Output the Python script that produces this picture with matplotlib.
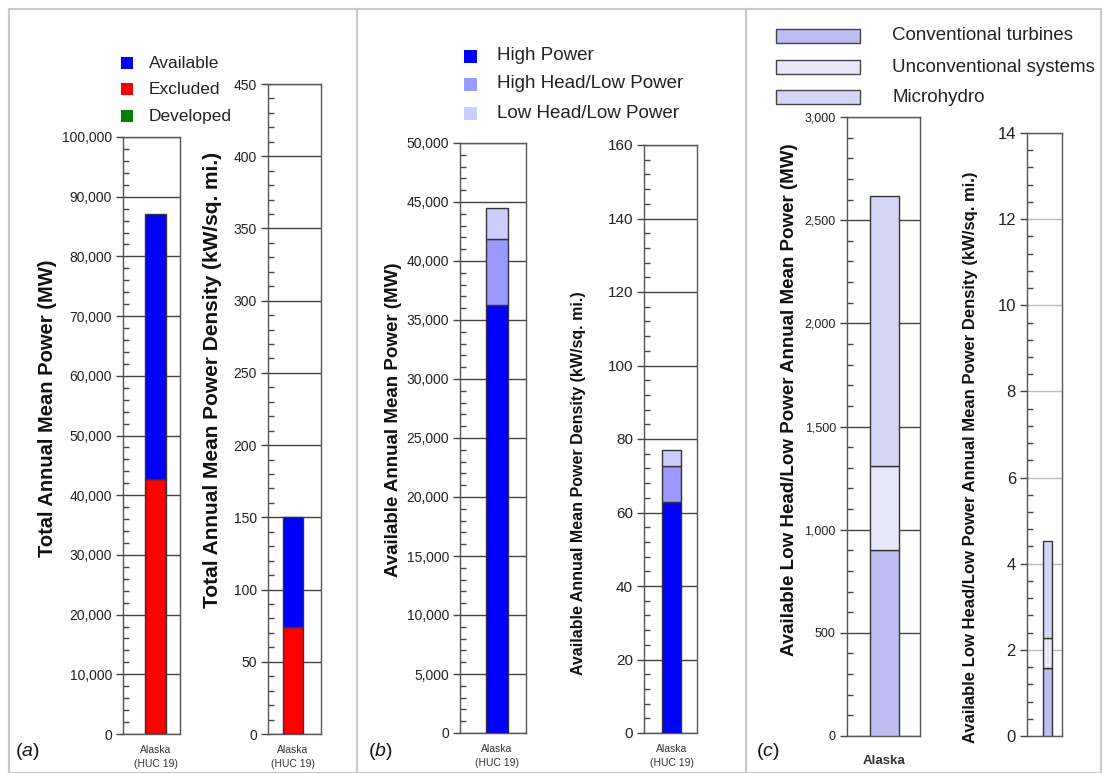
import matplotlib
matplotlib.use("Agg")
import matplotlib.pyplot as plt
from matplotlib.patches import Rectangle
from matplotlib.lines import Line2D
from matplotlib.ticker import MultipleLocator, StrMethodFormatter

plt.rcParams['font.family'] = ['Liberation Sans', 'DejaVu Sans']
plt.rcParams['mathtext.fontset'] = 'custom'
plt.rcParams['mathtext.rm'] = 'Liberation Sans'
plt.rcParams['mathtext.it'] = 'Liberation Sans:italic'

# ---- data ----
region = "Alaska\n(HUC 19)"

# (a) total power, stacked bottom -> top
a_names = ["Developed", "Excluded", "Available"]
a_colors = ["#007F00", "#FF0000", "#0000FF"]
a_power_mw = [0, 42700, 44400]
a_density = [0, 74, 76]

# (b) available power by class
b_names = ["High Power", "High Head/Low Power", "Low Head/Low Power"]
b_colors = ["#0000FF", "#9999FF", "#CCCCFF"]
b_power_mw = [36270, 5600, 2600]
b_density = [62.9, 9.7, 4.4]

# (c) low head / low power by technology
c_names = ["Conventional turbines", "Unconventional systems", "Microhydro"]
c_colors = ["#BEBEF3", "#E8E8FA", "#D5D5F7"]
c_power_mw = [901, 408, 1308]
c_density = [1.58, 0.70, 2.25]

W, H = 1104, 773
fig = plt.figure(figsize=(W / 100, H / 100), dpi=100)


def px_axes(l, t, r, b):
    return fig.add_axes([l / W, 1 - b / H, (r - l) / W, (b - t) / H])


def stacked_bar(ax, l, r, bar_l, bar_r, values, colors, ymax, major, minor,
                fmt="{x:.0f}", tick_size=10, grid_color="#444444",
                xlabel=region, xlabel_size=7.5, xlabel_weight="normal",
                xpad=8):
    ax.set_xlim(0, r - l)
    ax.set_ylim(0, ymax)
    x = (bar_l + bar_r) / 2 - l
    bottom = 0
    for v, c in zip(values, colors):
        if v > 0:
            ax.bar(x, v, width=bar_r - bar_l, bottom=bottom, color=c,
                   edgecolor="#333333", linewidth=1.0, zorder=3)
        bottom += v
    ax.yaxis.set_major_locator(MultipleLocator(major))
    ax.yaxis.set_minor_locator(MultipleLocator(minor))
    ax.yaxis.set_major_formatter(StrMethodFormatter(fmt))
    ax.grid(axis="y", which="major", color=grid_color, linewidth=1.0, zorder=1)
    ax.tick_params(axis="y", which="major", direction="out", length=5,
                   width=1, color="#444444", labelsize=tick_size, pad=3,
                   labelcolor="#222222")
    ax.tick_params(axis="y", which="minor", direction="in", length=4,
                   width=1, color="#444444")
    ax.set_xticks([x])
    ax.set_xticklabels([xlabel], fontsize=xlabel_size, color="#333333",
                       fontweight=xlabel_weight, linespacing=1.5)
    ax.tick_params(axis="x", length=0, pad=xpad)
    for s in ax.spines.values():
        s.set_color("#555555")
        s.set_linewidth(1.0)


def ylabel(x, y, text, size=12):
    fig.text(x / W, 1 - y / H, text, rotation=90, ha="center", va="center",
             fontsize=size, fontweight="bold", color="#111111")


def legend_keys(names, colors, x0, x1, ys, h, text_x, size=11, edge="none"):
    for name, c, y in zip(names, colors, ys):
        fig.add_artist(Rectangle((x0 / W, 1 - (y + h / 2) / H), (x1 - x0) / W,
                                 h / H, transform=fig.transFigure,
                                 facecolor=c, edgecolor=edge, linewidth=1.0))
        fig.text(text_x / W, 1 - y / H, name, ha="left", va="center",
                 fontsize=size, color="#222222")


# ---- panel (a) ----
ax = px_axes(123, 137, 180, 734)
stacked_bar(ax, 123, 180, 145, 166, a_power_mw, a_colors, 100000, 10000,
            2000, fmt="{x:,.0f}")
ylabel(48, 408, "Total Annual Mean Power (MW)", size=14.5)

ax = px_axes(268, 84, 321, 734)
stacked_bar(ax, 268, 321, 283, 303, a_density, a_colors, 450, 50, 10)
ylabel(212, 380, "Total Annual Mean Power Density (kW/sq. mi.)", size=15)

legend_keys(a_names[::-1], a_colors[::-1], 121, 133,
            [63, 89, 116], 12, 149, size=12.5)

# ---- panel (b) ----
ax = px_axes(460, 143, 526, 733)
stacked_bar(ax, 460, 526, 486, 508, b_power_mw, b_colors, 50000, 5000,
            1000, fmt="{x:,.0f}")
ylabel(393, 420, "Available Annual Mean Power (MW)", size=13.5)

ax = px_axes(644, 145, 697, 733)
stacked_bar(ax, 644, 697, 662, 681, b_density, b_colors, 160, 20, 4,
            tick_size=11)
ylabel(578, 483, "Available Annual Mean Power Density (kW/sq. mi.)",
       size=11.5)

legend_keys(b_names, b_colors, 464, 477, [56, 84, 113], 13, 497, size=13.5)

# ---- panel (c) ----
ax = px_axes(847, 117, 920, 736)
stacked_bar(ax, 847, 920, 870, 899, c_power_mw, c_colors, 3000, 500, 100,
            fmt="{x:,.0f}", tick_size=9, xlabel="Alaska", xlabel_size=9.5,
            xlabel_weight="bold", xpad=14)
ylabel(790, 400, "Available Low Head/Low Power Annual Mean Power (MW)",
       size=13.5)

ax = px_axes(1027, 133, 1062, 736)
stacked_bar(ax, 1027, 1062, 1043, 1052, c_density, c_colors, 14, 2, 0.4,
            tick_size=12, grid_color="#BBBBBB", xlabel="")
ylabel(970, 457,
       "Available Low Head/Low Power Annual Mean Power Density (kW/sq. mi.)",
       size=12)

legend_keys(c_names, c_colors, 776, 860, [36, 67, 97], 14, 892,
            size=13.5, edge="#444444")

# ---- panel frame and letters ----
border = "#C8C8C8"
fig.add_artist(Rectangle((9 / W, 0), (1101 - 9) / W, 1 - 9 / H,
                         transform=fig.transFigure, fill=False,
                         edgecolor=border, linewidth=1.5))
for xd in (357, 746):
    fig.add_artist(Line2D([xd / W, xd / W], [0, 1 - 9 / H],
                          transform=fig.transFigure, color=border,
                          linewidth=1.5))
for letter, xl in (("a", 15), ("b", 368), ("c", 756)):
    fig.text(xl / W, 1 - 752 / H, r"($\it{%s}$)" % letter, ha="left",
             va="center", fontsize=14, color="#111111")

fig.savefig("out.png", dpi=100)
